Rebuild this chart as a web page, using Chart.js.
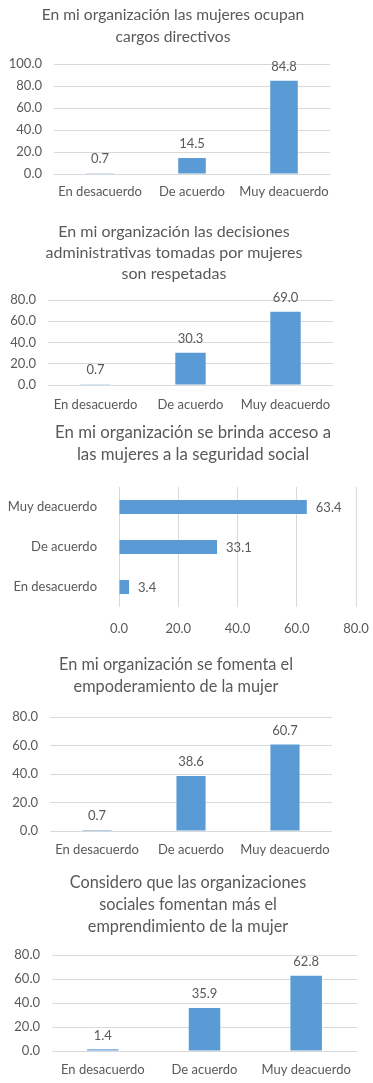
<!DOCTYPE html>
<html>
<head>
<meta charset="utf-8">
<script src="https://cdn.jsdelivr.net/npm/chart.js@4"></script>
<style>
  html, body { margin: 0; padding: 0; background: #ffffff; }
  body { width: 373px; height: 1083px; position: relative; overflow: hidden; }
  .box { position: absolute; left: 0; width: 373px; }
</style>
</head>
<body>
<div class="box" id="b1" style="top:0px;height:200px"><canvas id="c1"></canvas></div>
<div class="box" id="b2" style="top:200px;height:213px"><canvas id="c2"></canvas></div>
<div class="box" id="b3" style="top:413px;height:231px"><canvas id="c3"></canvas></div>
<div class="box" id="b4" style="top:644px;height:215px"><canvas id="c4"></canvas></div>
<div class="box" id="b5" style="top:859px;height:220px"><canvas id="c5"></canvas></div>
<script>
const categories = ["En desacuerdo", "De acuerdo", "Muy deacuerdo"];

const title1 = ["En mi organización las mujeres ocupan", "cargos directivos"];
const values1 = [0.7, 14.5, 84.8];

const title2 = ["En mi organización las decisiones", "administrativas tomadas por mujeres", "son respetadas"];
const values2 = [0.7, 30.3, 69.0];

const title3 = ["En mi organización se brinda acceso a", "las mujeres a la seguridad social"];
const values3 = [3.4, 33.1, 63.4];

const title4 = ["En mi organización se fomenta el", "empoderamiento de la mujer"];
const values4 = [0.7, 38.6, 60.7];

const title5 = ["Considero que las organizaciones", "sociales fomentan más el", "emprendimiento de la mujer"];
const values5 = [1.4, 35.9, 62.8];

const axisMax1 = 100;
const axisMax = 80;
const axisStep = 20;

const BAR = "#5B9BD5";
const TEXT = "#595959";
const GRID = "#D9D9D9";
const FONT = "Lato, 'Open Sans', sans-serif";
const W = 373;

const valueLabels = {
  id: "valueLabels",
  afterDatasetsDraw(chart) {
    const ctx = chart.ctx;
    const horiz = chart.options.indexAxis === "y";
    chart.data.datasets.forEach((ds, di) => {
      const meta = chart.getDatasetMeta(di);
      meta.data.forEach((el, i) => {
        const txt = ds.data[i].toFixed(1);
        ctx.save();
        ctx.fillStyle = TEXT;
        ctx.font = "13px " + FONT;
        ctx.textBaseline = "middle";
        if (horiz) {
          ctx.textAlign = "left";
          ctx.fillText(txt, el.x + 9, el.y + 1);
        } else {
          ctx.textAlign = "center";
          ctx.fillText(txt, el.x, el.y - 14);
        }
        ctx.restore();
      });
    });
  }
};

function titleOpts(title, size, lh, top, firstLineCenter, plotTop) {
  const titleTop = firstLineCenter - lh / 2;
  const titleBottom = titleTop + lh * title.length;
  return {
    display: true,
    text: title,
    color: TEXT,
    font: { family: FONT, size: size, weight: "normal", lineHeight: lh / size },
    padding: { top: titleTop - top, bottom: plotTop - titleBottom }
  };
}

// horizontal padding so that the full-width title box is centred on titleCenter
function sidePads(titleCenter, plotRight, padLeft) {
  const padRight = W - 2 * titleCenter + padLeft;
  const rightBox = W - padRight - plotRight;
  return { padLeft, padRight, rightBox };
}

function spacerAxis(width) {
  return {
    position: "right",
    display: true,
    grid: { display: false, drawTicks: false },
    border: { display: false },
    ticks: { display: false },
    afterFit: s => { s.width = width; }
  };
}

function vertical(c) {
  const boxH = document.getElementById("b" + c.n).clientHeight;
  const xH = c.top + boxH - c.plotBottom;
  const p = sidePads(c.titleCenter, c.plotRight, 0);
  new Chart(document.getElementById("c" + c.n), {
    type: "bar",
    data: {
      labels: categories,
      datasets: [{ data: c.values, backgroundColor: BAR, barPercentage: c.barPct, categoryPercentage: 1 }]
    },
    options: {
      responsive: true,
      maintainAspectRatio: false,
      animation: false,
      layout: { padding: { left: p.padLeft, right: p.padRight, top: 0, bottom: 0 } },
      plugins: {
        legend: { display: false },
        tooltip: { enabled: false },
        title: titleOpts(c.title, c.titleSize, c.lh, c.top, c.firstLineCenter, c.plotTop)
      },
      scales: {
        x: {
          grid: { display: false, drawTicks: false },
          border: { display: false },
          ticks: { color: TEXT, font: { family: FONT, size: 13 }, padding: c.labelCenter - c.plotBottom - 8, maxRotation: 0, autoSkip: false },
          afterFit: s => { s.height = xH; }
        },
        y: {
          min: 0, max: c.max,
          grid: { color: GRID, drawTicks: false },
          border: { display: false },
          ticks: { stepSize: axisStep, color: TEXT, font: { family: FONT, size: 13 }, padding: 12, callback: v => Number(v).toFixed(1) },
          afterFit: s => { s.width = c.plotLeft - p.padLeft; }
        },
        spacer: spacerAxis(p.rightBox)
      }
    },
    plugins: [valueLabels]
  });
}

vertical({ n: 1, top: 0, title: title1, values: values1, max: axisMax1, titleSize: 15.6, lh: 22, firstLineCenter: 15, titleCenter: 173,
  plotTop: 64, plotBottom: 174, plotLeft: 54, plotRight: 330, labelCenter: 192, barPct: 0.30 });
vertical({ n: 2, top: 200, title: title2, values: values2, max: axisMax, titleSize: 16, lh: 20.8, firstLineCenter: 232, titleCenter: 174,
  plotTop: 300, plotBottom: 385, plotLeft: 48, plotRight: 333, labelCenter: 405, barPct: 0.32 });
vertical({ n: 4, top: 644, title: title4, values: values4, max: axisMax, titleSize: 16.3, lh: 22, firstLineCenter: 665, titleCenter: 176,
  plotTop: 717, plotBottom: 831, plotLeft: 50, plotRight: 332, labelCenter: 850, barPct: 0.31 });
vertical({ n: 5, top: 859, title: title5, values: values5, max: axisMax, titleSize: 16.3, lh: 22, firstLineCenter: 883, titleCenter: 188,
  plotTop: 955, plotBottom: 1051, plotLeft: 52, plotRight: 357, labelCenter: 1070, barPct: 0.31 });

// horizontal chart
(function () {
  const top = 413, lh = 22, firstLineCenter = 433, titleCenter = 193;
  const plotTop = 487, plotBottom = 607, plotLeft = 119, plotRight = 356;
  const xH = top + 231 - plotBottom;
  const p = sidePads(titleCenter, plotRight, 8);
  new Chart(document.getElementById("c3"), {
    type: "bar",
    data: {
      labels: categories,
      datasets: [{ data: values3, backgroundColor: BAR, barPercentage: 0.35, categoryPercentage: 1 }]
    },
    options: {
      indexAxis: "y",
      responsive: true,
      maintainAspectRatio: false,
      animation: false,
      layout: { padding: { left: p.padLeft, right: p.padRight, top: 0, bottom: 0 } },
      plugins: {
        legend: { display: false },
        tooltip: { enabled: false },
        title: titleOpts(title3, 16.8, lh, top, firstLineCenter, plotTop)
      },
      scales: {
        x: {
          min: 0, max: axisMax,
          grid: { color: GRID, drawTicks: true, tickLength: 11, tickColor: "rgba(0,0,0,0)" },
          border: { display: false },
          ticks: { stepSize: axisStep, color: TEXT, font: { family: FONT, size: 13 }, padding: 3, callback: v => Number(v).toFixed(1) },
          afterFit: s => { s.height = xH; }
        },
        y: {
          reverse: true,
          grid: { display: false },
          border: { display: false },
          ticks: { color: TEXT, font: { family: FONT, size: 13 }, padding: 14, autoSkip: false },
          afterFit: s => { s.width = plotLeft - p.padLeft; }
        },
        spacer: spacerAxis(p.rightBox)
      }
    },
    plugins: [valueLabels]
  });
})();
</script>
</body>
</html>
